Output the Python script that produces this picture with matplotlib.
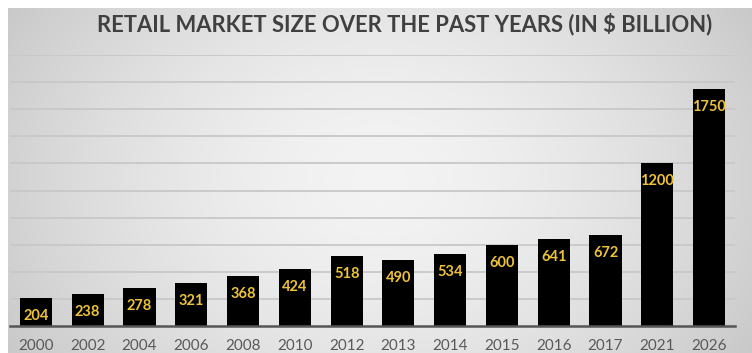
import numpy as np
import matplotlib
matplotlib.use("Agg")
import matplotlib.pyplot as plt

years = ["2000", "2002", "2004", "2006", "2008", "2010", "2012", "2013",
         "2014", "2015", "2016", "2017", "2021", "2026"]
values = [204, 238, 278, 321, 368, 424, 518, 490, 534, 600, 641, 672, 1200, 1750]
title = "RETAIL MARKET SIZE OVER THE PAST YEARS (IN $ BILLION)"

W, H = 752, 353
fig = plt.figure(figsize=(W / 100, H / 100), dpi=100)
fig.patch.set_facecolor("white")

# gradient background panel
bg = fig.add_axes([8 / W, 0, 1 - 8 / W, 1 - 8 / H])
bg.set_axis_off()
xs = np.linspace(-1, 1, 400)
ys = np.linspace(-1, 1, 200)
X, Y = np.meshgrid(xs, ys)
R = np.sqrt(X ** 2 + (0.6 * Y) ** 2)
val = 0.955 - 0.13 * np.clip(R, 0, 1.2) ** 1.6
bg.imshow(np.dstack([val, val, val]), aspect="auto", extent=[0, 1, 0, 1],
          interpolation="bilinear")
bg.set_xlim(0, 1)
bg.set_ylim(0, 1)

ax = fig.add_axes([10 / W, 1 - 326 / H, (735 - 10) / W, (326 - 55) / H])
ax.set_facecolor("none")
x = np.arange(len(years))
bars = ax.bar(x, values, width=0.62, color="black", zorder=3)
ax.set_xlim(-0.5, len(years) - 0.5)
ax.set_ylim(0, 2000)
ax.set_yticks(np.arange(200, 2001, 200))
ax.yaxis.grid(True, color="#c8c8c8", linewidth=1.3, zorder=0)
ax.set_axisbelow(True)
ax.tick_params(axis="y", left=False, labelleft=False)
ax.tick_params(axis="x", bottom=False, pad=6)
ax.set_xticks(x)
ax.set_xticklabels(years, fontsize=11, color="#595959", family=["Lato", "DejaVu Sans"])
for s in ["top", "right", "left"]:
    ax.spines[s].set_visible(False)
ax.spines["bottom"].set_color("#555555")
ax.spines["bottom"].set_linewidth(1.8)
ax.spines["bottom"].set_zorder(4)

for xi, v in zip(x, values):
    ax.annotate(str(v), (xi, v), xytext=(0, -13), textcoords="offset points",
                ha="center", va="center", fontsize=10.5, fontweight="bold",
                color="#eec33a", family=["Lato", "DejaVu Sans"], zorder=5)

fig.text(405 / W, 1 - 24 / H, title, ha="center", va="center", fontsize=15.8,
         fontweight="bold", color="#404040", family=["Lato", "DejaVu Sans"])

fig.savefig("out.png", dpi=100)
